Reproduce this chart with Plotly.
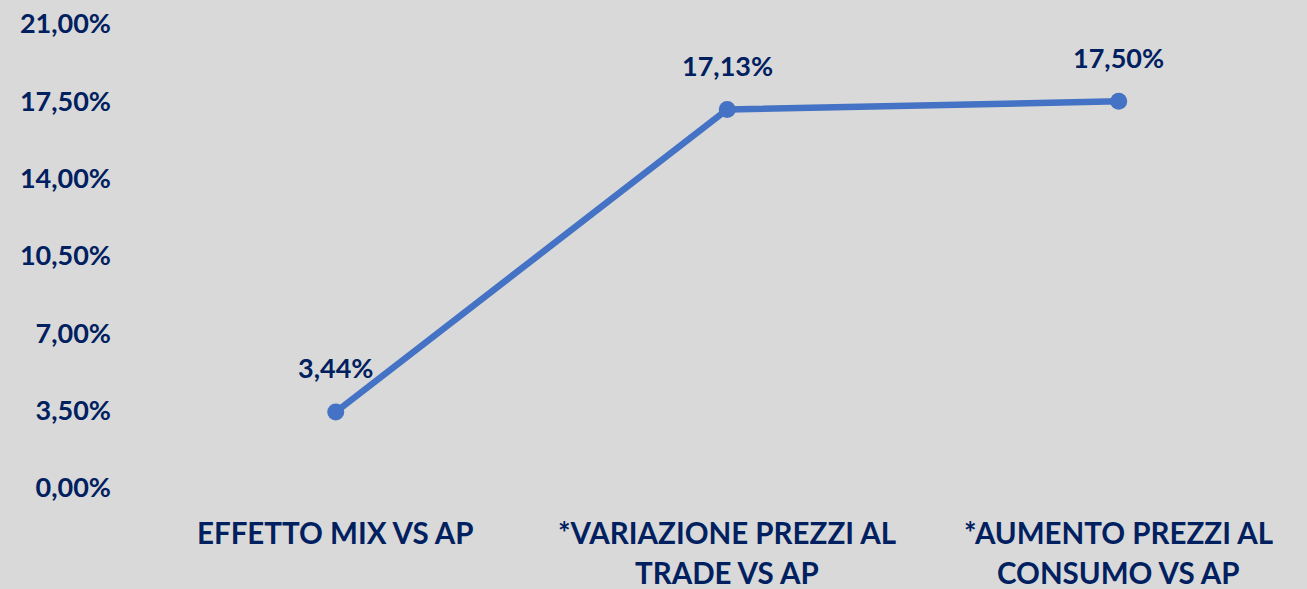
import plotly.graph_objects as go

categories = ["EFFETTO MIX VS AP", "*VARIAZIONE PREZZI AL\nTRADE VS AP", "*AUMENTO PREZZI AL\nCONSUMO VS AP"]
values = [3.44, 17.13, 17.50]
y_ticks = [0, 3.5, 7, 10.5, 14, 17.5, 21]

NAVY = "#002060"
BLUE = "#4472C4"
BG = "#D9D9D9"
FONT = "Lato"

def fmt(v):
    return f"{v:.2f}".replace(".", ",") + "%"

def font(size):
    return dict(family=FONT, size=size, color=NAVY, weight="bold")

xs = list(range(len(categories)))

fig = go.Figure()
fig.add_trace(go.Scatter(
    x=xs, y=values, mode="lines+markers",
    line=dict(color=BLUE, width=6.5),
    marker=dict(color=BLUE, size=17),
    hoverinfo="skip", showlegend=False,
))

annotations = []
for x, v in zip(xs, values):
    annotations.append(dict(
        x=x, y=v, xref="x", yref="y", text=fmt(v), showarrow=False,
        yshift=44, font=font(27),
    ))
for x, c in zip(xs, categories):
    for i, line in enumerate(c.split("\n")):
        annotations.append(dict(
            x=x, y=0, xref="x", yref="paper", text=line, showarrow=False,
            yshift=-63 - 40 * i, borderpad=0, font=font(29.5),
        ))

fig.update_layout(
    width=1307, height=589,
    margin=dict(l=140, r=0, t=24, b=101),
    paper_bgcolor=BG, plot_bgcolor=BG,
    separators=",.",
    font=font(27),
    annotations=annotations,
    xaxis=dict(
        range=[-0.5, 2.481], showgrid=False, zeroline=False,
        showticklabels=False, showline=False, fixedrange=True,
    ),
    yaxis=dict(
        range=[0, 21], tickvals=y_ticks,
        ticktext=[fmt(t) for t in y_ticks],
        showgrid=False, zeroline=False, showline=False,
        ticklabelstandoff=28, fixedrange=True,
        tickfont=font(27),
    ),
)

fig.write_html(
    "out.html",
    config={"displayModeBar": False, "staticPlot": True},
    post_script="document.body.style.margin='0';document.body.style.overflow='hidden';",
)
